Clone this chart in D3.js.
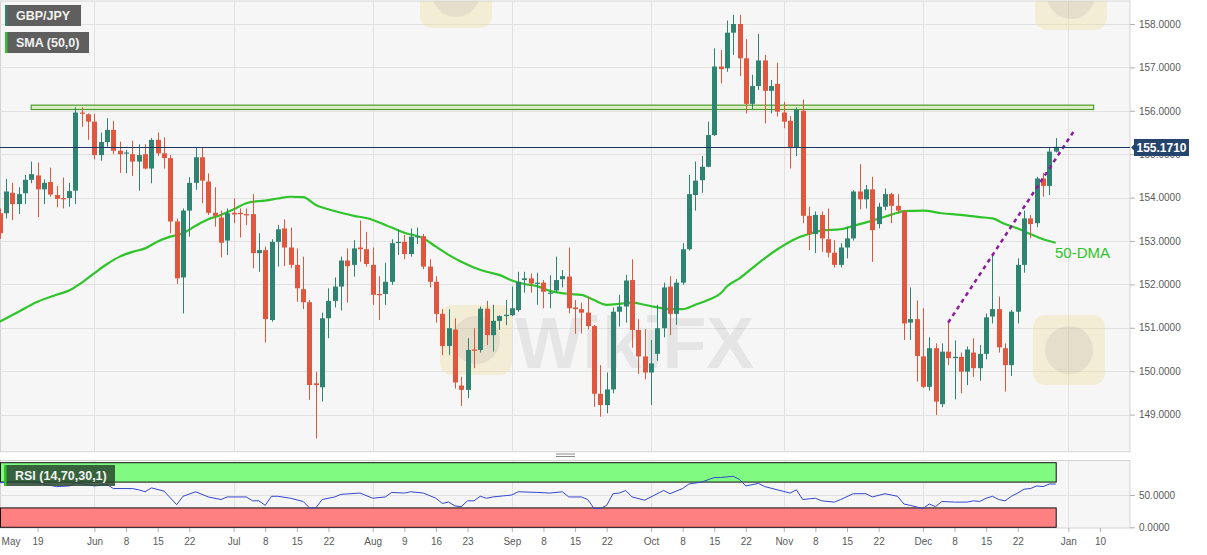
<!DOCTYPE html>
<html>
<head>
<meta charset="utf-8">
<script src="https://cdn.jsdelivr.net/npm/d3@7"></script>
<style>
  body { margin: 0; background: #fff; }
  svg { display: block; font-family: "Liberation Sans", Arial, sans-serif; }
</style>
</head>
<body>
<div id="container"></div>
<script>
// ---- data (GBP/JPY daily) ----
const axisStart = "2021-05-03";   // first weekday of the axis
const axisEnd = "2022-01-14";
const candleStart = "2021-05-11"; // first candle

const open = [
  153.64,153.64,154.11,153.85,154.10,154.41,154.51,154.19,154.36,154.06,153.99,153.99,154.16,155.96,155.92,
  155.75,154.98,155.28,155.56,155.08,155.02,155.00,154.83,155.00,154.67,155.33,155.02,154.91,153.45,152.16,153.70,154.34,154.93,154.37,153.65,153.54,153.01,
  153.65,153.65,153.62,153.62,152.72,152.79,151.18,152.98,153.29,152.85,152.45,151.89,151.59,149.72,149.63,151.22,151.62,151.95,152.55,152.45,152.85,152.81,
  152.45,151.78,151.78,152.06,152.96,152.98,152.70,153.10,153.11,152.41,152.06,151.32,150.58,150.96,149.67,149.57,150.50,150.49,151.44,150.83,151.16,151.27,
  151.29,151.41,152.10,152.14,152.02,152.04,151.79,151.86,152.12,152.18,151.47,151.43,151.35,151.04,149.48,149.22,149.58,151.37,151.49,152.10,150.95,150.34,
  149.97,150.40,150.99,151.95,151.32,152.04,152.81,154.06,154.40,154.71,155.44,157.02,156.98,157.80,158.00,157.21,156.16,156.57,157.16,156.46,156.62,
  155.96,155.77,155.16,156.00,153.58,153.16,153.60,153.04,152.73,152.45,152.85,153.06,154.14,153.96,154.19,153.39,153.79,154.08,153.81,153.68,151.12,151.20,
  150.34,149.64,150.53,149.24,150.45,150.30,150.33,149.99,150.43,150.07,150.40,151.26,151.43,150.53,150.14,151.37,152.45,153.52,153.41,154.44,154.27,155.06
];
const high = [
  153.75,154.43,154.34,154.24,154.52,154.83,154.81,154.42,154.69,154.27,154.46,154.34,156.08,156.08,155.94,
  155.93,155.50,155.83,155.77,155.29,155.10,155.31,155.23,155.23,155.37,155.50,155.39,154.98,153.52,153.75,154.47,155.16,155.16,154.56,154.24,153.70,153.75,
  153.98,153.75,153.75,154.08,153.18,152.87,153.04,153.37,153.50,153.31,152.83,152.64,151.64,149.99,151.35,151.91,152.16,152.64,152.83,153.02,153.47,153.21,
  152.85,152.19,152.50,153.04,153.27,153.14,153.29,153.31,153.16,152.58,152.19,151.43,151.43,151.22,149.87,150.76,150.99,151.49,151.62,151.53,151.29,151.64,
  151.95,152.29,152.29,152.25,152.27,152.10,152.21,152.64,152.33,152.85,151.64,151.58,151.72,151.07,150.14,149.97,151.47,151.76,152.22,152.58,151.20,150.97,
  150.72,151.53,152.04,152.19,152.12,152.95,154.52,154.83,154.96,155.75,157.44,157.40,158.08,158.21,158.21,157.65,156.83,157.77,157.29,156.71,157.11,
  156.21,155.88,156.08,156.26,153.79,153.68,153.68,153.75,153.02,152.95,153.32,154.17,154.77,154.29,154.48,153.88,154.21,154.11,154.08,153.71,151.93,151.63,
  151.45,150.78,150.64,150.64,151.12,150.71,150.43,150.57,150.76,150.60,151.33,152.68,151.72,150.64,151.41,152.60,153.70,153.60,154.48,154.57,155.14,155.37
];
const low = [
  153.05,153.52,153.48,153.62,153.85,154.33,153.55,153.85,154.02,153.78,153.75,153.79,153.85,155.63,155.33,
  154.88,154.85,155.17,155.00,154.57,154.56,154.50,154.16,154.65,154.33,154.96,154.67,153.18,152.01,151.33,153.10,154.18,153.87,153.60,153.33,152.62,152.68,
  153.41,153.08,153.37,152.37,152.29,150.66,151.14,152.41,152.42,152.37,151.60,151.43,149.34,148.45,149.30,150.76,151.47,151.40,151.58,152.18,152.52,152.41,
  151.53,151.18,151.53,151.99,152.68,152.58,152.64,152.93,152.35,151.93,151.12,150.37,150.37,149.60,149.20,149.38,150.07,150.43,150.60,150.45,150.95,151.06,
  151.27,151.37,151.81,151.81,151.53,151.45,151.45,151.81,151.93,151.33,150.86,150.87,150.96,149.18,148.95,149.03,149.49,151.03,151.12,150.54,149.94,149.81,
  149.22,150.24,150.78,150.83,151.07,151.99,152.78,153.70,154.11,154.70,155.42,156.63,156.90,157.29,156.80,155.94,156.03,156.48,155.71,155.94,155.87,
  155.60,154.67,154.96,153.41,152.79,152.72,152.75,152.62,152.39,152.39,152.60,153.01,153.73,153.75,152.52,153.29,153.71,153.41,153.64,150.72,150.72,149.76,
  149.61,149.55,148.99,149.17,150.14,149.35,149.49,149.68,149.87,149.78,150.27,151.10,150.43,149.53,149.89,151.10,152.27,153.06,153.32,154.02,154.06,155.04
];
const close = [
  153.18,154.14,153.85,154.08,154.41,154.54,154.19,154.34,154.07,153.97,153.96,154.15,155.96,155.93,155.75,
  154.98,155.28,155.56,155.08,155.00,155.04,154.83,154.98,154.67,155.33,155.02,154.91,153.45,152.14,153.70,154.34,154.93,154.39,153.65,153.58,152.96,153.64,
  153.61,153.62,153.59,152.72,152.79,151.20,152.98,153.27,152.85,152.45,151.91,151.59,149.68,149.68,151.22,151.62,151.95,152.55,152.42,152.83,152.81,152.47,
  151.76,151.75,152.06,152.95,152.98,152.70,153.10,153.11,152.41,152.06,151.32,150.58,150.99,149.74,149.57,150.49,150.47,151.44,150.83,151.16,151.27,151.30,
  151.45,152.06,152.14,152.02,152.04,151.83,151.81,152.10,152.19,151.45,151.43,151.35,151.04,149.48,149.22,149.58,151.37,151.49,152.09,150.95,150.34,149.97,
  150.18,150.99,151.93,151.32,152.04,152.81,154.08,154.39,154.71,155.44,157.02,156.96,157.80,158.00,157.21,156.16,156.57,157.16,156.46,156.57,155.98,
  155.75,155.14,156.03,153.58,153.16,153.60,153.06,152.73,152.45,152.85,153.06,154.14,153.96,154.19,153.25,153.79,154.08,153.81,153.70,151.10,151.20,150.35,
  149.64,150.53,149.30,150.45,150.30,150.33,149.99,150.50,150.07,150.40,151.24,151.43,150.55,150.14,151.37,152.45,153.52,153.39,154.44,154.27,155.06,155.17
];

// 50-day SMA, sampled along the line
const smaDates = [
  "2021-05-11","2021-05-14","2021-05-19","2021-05-24","2021-05-26","2021-05-28","2021-06-01","2021-06-03","2021-06-07","2021-06-09",
  "2021-06-11","2021-06-15","2021-06-17","2021-06-21","2021-06-23","2021-06-25","2021-06-29","2021-07-01","2021-07-05","2021-07-07",
  "2021-07-08","2021-07-12","2021-07-14","2021-07-16","2021-07-20","2021-07-22","2021-07-26","2021-07-28","2021-07-30","2021-08-04",
  "2021-08-09","2021-08-12","2021-08-16","2021-08-18","2021-08-20","2021-08-24","2021-08-26","2021-08-30","2021-09-01","2021-09-03",
  "2021-09-07","2021-09-09","2021-09-14","2021-09-16","2021-09-20","2021-09-22","2021-09-24","2021-09-28","2021-09-30","2021-10-04",
  "2021-10-06","2021-10-08","2021-10-12","2021-10-14","2021-10-18","2021-10-19","2021-10-21","2021-10-26","2021-10-29","2021-11-03",
  "2021-11-05","2021-11-09","2021-11-12","2021-11-16","2021-11-19","2021-11-23","2021-11-25","2021-11-26","2021-12-01","2021-12-06",
  "2021-12-09","2021-12-14","2021-12-16","2021-12-20","2021-12-22","2021-12-24","2021-12-28","2021-12-30"
];
const smaValues = [
  151.14,151.37,151.60,151.76,151.86,152.04,152.26,152.47,152.64,152.75,
  152.83,152.99,153.10,153.18,153.35,153.50,153.60,153.73,153.87,153.92,
  153.93,153.98,154.02,154.01,153.83,153.73,153.65,153.58,153.53,153.37,
  153.19,153.06,152.87,152.68,152.52,152.39,152.29,152.22,152.09,152.01,
  151.96,151.85,151.78,151.76,151.64,151.53,151.55,151.58,151.53,151.47,
  151.43,151.43,151.53,151.64,151.79,151.95,152.14,152.49,152.81,153.06,
  153.16,153.24,153.27,153.35,153.47,153.56,153.65,153.69,153.70,153.64,
  153.60,153.55,153.52,153.39,153.29,153.16,153.04,152.96
];

// RSI (14), sampled along the line
const rsiDates = [
  "2021-05-11","2021-05-13","2021-05-19","2021-05-24","2021-05-26","2021-05-27","2021-06-01","2021-06-03","2021-06-04","2021-06-09",
  "2021-06-10","2021-06-11","2021-06-14","2021-06-16","2021-06-18","2021-06-21","2021-06-23","2021-06-25","2021-06-29","2021-06-30",
  "2021-07-05","2021-07-06","2021-07-07","2021-07-08","2021-07-09","2021-07-12","2021-07-14","2021-07-16","2021-07-19","2021-07-20",
  "2021-07-21","2021-07-23","2021-07-26","2021-07-29","2021-08-02","2021-08-04","2021-08-05","2021-08-09","2021-08-10","2021-08-12",
  "2021-08-16","2021-08-17","2021-08-18","2021-08-19","2021-08-20","2021-08-23","2021-08-24","2021-08-25","2021-08-26","2021-08-27",
  "2021-09-01","2021-09-02","2021-09-07","2021-09-09","2021-09-13","2021-09-14","2021-09-16","2021-09-17","2021-09-20","2021-09-21",
  "2021-09-22","2021-09-23","2021-09-24","2021-09-27","2021-09-28","2021-09-30","2021-10-01","2021-10-05","2021-10-06","2021-10-08",
  "2021-10-11","2021-10-13","2021-10-15","2021-10-18","2021-10-20","2021-10-21","2021-10-22","2021-10-26","2021-10-27","2021-10-29",
  "2021-11-02","2021-11-03","2021-11-04","2021-11-08","2021-11-09","2021-11-11","2021-11-12","2021-11-16","2021-11-18","2021-11-19",
  "2021-11-23","2021-11-25","2021-11-26","2021-11-29","2021-12-01","2021-12-02","2021-12-03","2021-12-06","2021-12-08","2021-12-10",
  "2021-12-13","2021-12-14","2021-12-15","2021-12-16","2021-12-17","2021-12-20","2021-12-21","2021-12-22","2021-12-23","2021-12-24",
  "2021-12-27","2021-12-28","2021-12-29","2021-12-30"
];
const rsiValues = [
  69,70,69,63,64,69,64,66,60,60,
  58,55,61,56,35,48,55,47,43,47,
  47,41,41,34,48,48,45,40,30,30,
  43,47,51,53,45,47,54,53,55,53,
  45,37,39,33,32,41,41,48,45,47,
  50,55,54,53,55,47,47,43,29,29,
  34,52,53,57,47,42,47,57,52,60,
  67,70,77,77,79,74,64,68,63,58,
  53,58,43,45,41,39,43,52,52,47,
  52,48,36,34,29,36,32,40,39,39,
  41,40,45,48,43,41,48,53,59,60,
  64,63,67,67
];

const xTickDates = [
  "2021-05-03","2021-05-19","2021-06-01","2021-06-08","2021-06-15","2021-06-22","2021-07-01","2021-07-08","2021-07-15","2021-07-22",
  "2021-08-02","2021-08-09","2021-08-16","2021-08-23","2021-09-01","2021-09-08","2021-09-15","2021-09-22","2021-10-01","2021-10-08",
  "2021-10-15","2021-10-22","2021-11-01","2021-11-08","2021-11-15","2021-11-22","2021-12-01","2021-12-08","2021-12-15","2021-12-22",
  "2022-01-03","2022-01-10"
];
const xTickLabels = [
  "May","19","Jun","8","15","22","Jul","8","15","22",
  "Aug","9","16","23","Sep","8","15","22","Oct","8",
  "15","22","Nov","8","15","22","Dec","8","15","22",
  "Jan","10"
];
const priceTicks = [149, 150, 151, 152, 153, 154, 155, 156, 157, 158];
const rsiTicks = [0, 50];
const rsiLevels = [30, 70];
const lastPrice = 155.171;
const zoneDates = ["2021-05-18", "2022-01-07"];
const zonePrices = [156.03, 156.13];
const trendDates = ["2021-12-07", "2022-01-04"];
const trendValues = [151.12, 155.56];

// ---- layout ----
const width = 1207;
const height = 555;
const plotRight = 1130;
const mainTop = 1, mainBottom = 451.7;
const rsiTop = 460.5, rsiBottom = 528;

const colorUp = "#2e8371";
const colorDown = "#e0573f";

// trading days on the axis (weekdays only)
const parseDay = d3.timeParse("%Y-%m-%d");
const fmtDay = d3.timeFormat("%Y-%m-%d");
const days = d3.timeDay.range(parseDay(axisStart), d3.timeDay.offset(parseDay(axisEnd), 1))
  .filter(d => d.getDay() !== 0 && d.getDay() !== 6)
  .map(fmtDay);
const dayIndex = new Map(days.map((d, i) => [d, i]));
const i0 = dayIndex.get(candleStart);
const candles = open.map((o, k) => ({ i: i0 + k, o, h: high[k], l: low[k], c: close[k] }));

// scales
const scaleX = d3.scaleLinear()
  .domain([i0, i0 + candles.length - 1])
  .range([-0.4, 1055.7]);
const scaleY = d3.scaleLinear()
  .domain([148.145, 158.53])
  .range([mainBottom, mainTop]);
const scaleRsi = d3.scaleLinear()
  .domain([0, 100])
  .range([527.3, 462.7]);

const xOf = d => scaleX(dayIndex.get(d));

const svg = d3.select("#container")
  .append("svg")
  .attr("width", width)
  .attr("height", height);

const defs = svg.append("defs");
defs.append("clipPath").attr("id", "clipMain")
  .append("rect").attr("x", 0).attr("y", mainTop).attr("width", plotRight).attr("height", mainBottom - mainTop);
defs.append("clipPath").attr("id", "clipRsi")
  .append("rect").attr("x", 0).attr("y", rsiTop).attr("width", plotRight).attr("height", rsiBottom - rsiTop);

// panels
[[mainTop, mainBottom], [rsiTop, rsiBottom]].forEach(([t, b]) => {
  svg.append("rect")
    .attr("x", 0.5).attr("y", t)
    .attr("width", plotRight - 0.5).attr("height", b - t)
    .attr("fill", "#f6f6f6")
    .attr("stroke", "#d4d4d4");
});

// grid
const monthDates = xTickDates.filter((d, k) => isNaN(+xTickLabels[k]) && xOf(d) > 0);
const groupGrid = svg.append("g").attr("class", "groupGrid")
  .attr("stroke", "#e1e1e1").attr("stroke-width", 1);
groupGrid.selectAll("line.h")
  .data(priceTicks)
  .join("line").attr("class", "h")
  .attr("x1", 0).attr("x2", plotRight)
  .attr("y1", d => Math.round(scaleY(d)) + 0.5).attr("y2", d => Math.round(scaleY(d)) + 0.5);
groupGrid.selectAll("line.v")
  .data(monthDates)
  .join("line").attr("class", "v")
  .attr("x1", d => Math.round(xOf(d)) + 0.5).attr("x2", d => Math.round(xOf(d)) + 0.5)
  .attr("y1", mainTop).attr("y2", mainBottom);
groupGrid.selectAll("line.vr")
  .data(monthDates)
  .join("line").attr("class", "vr")
  .attr("x1", d => Math.round(xOf(d)) + 0.5).attr("x2", d => Math.round(xOf(d)) + 0.5)
  .attr("y1", rsiTop).attr("y2", rsiBottom);
groupGrid.append("line")
  .attr("x1", 0).attr("x2", plotRight)
  .attr("y1", Math.round(scaleRsi(50)) + 0.5).attr("y2", Math.round(scaleRsi(50)) + 0.5);

// watermark (faint logo tiles, one word mark in the middle)
const groupMark = svg.append("g").attr("class", "groupMark").attr("clip-path", "url(#clipMain)");
[[440, 305], [1033, 315], [420, -42], [1035, -40]].forEach(([mx, my]) => {
  groupMark.append("rect")
    .attr("x", mx).attr("y", my).attr("width", 72).attr("height", 70).attr("rx", 12)
    .attr("fill", "#f2dc9c").attr("opacity", 0.35);
  groupMark.append("circle")
    .attr("cx", mx + 36).attr("cy", my + 35).attr("r", 24)
    .attr("fill", "#9a9a9a").attr("opacity", 0.18);
});
groupMark.append("text")
  .attr("x", 515).attr("y", 368)
  .attr("fill", "#8f8f8f").attr("opacity", 0.16)
  .style("font-weight", "bold").style("font-size", "72px")
  .text("WikiFX");

// resistance zone
const groupMain = svg.append("g").attr("class", "groupMarks").attr("clip-path", "url(#clipMain)");
groupMain.append("rect")
  .attr("x", xOf(zoneDates[0]))
  .attr("y", scaleY(zonePrices[1]))
  .attr("width", xOf(zoneDates[1]) - xOf(zoneDates[0]))
  .attr("height", scaleY(zonePrices[0]) - scaleY(zonePrices[1]))
  .attr("fill", "#d9efbd")
  .attr("fill-opacity", 0.8)
  .attr("stroke", "#4f9a2c")
  .attr("stroke-width", 1.2);

// SMA 50
groupMain.append("path")
  .datum(smaDates.map((d, k) => [xOf(d), scaleY(smaValues[k])]))
  .attr("fill", "none")
  .attr("stroke", "#2fc42a")
  .attr("stroke-width", 2.2)
  .attr("d", d3.line().curve(d3.curveMonotoneX));

// candles
const candleG = groupMain.selectAll("g.candle")
  .data(candles)
  .join("g").attr("class", "candle")
  .attr("fill", d => d.c >= d.o ? colorUp : colorDown)
  .attr("stroke", d => d.c >= d.o ? colorUp : colorDown);
candleG.append("line")
  .attr("x1", d => Math.round(scaleX(d.i)) + 0.5)
  .attr("x2", d => Math.round(scaleX(d.i)) + 0.5)
  .attr("y1", d => scaleY(d.h))
  .attr("y2", d => scaleY(d.l))
  .attr("stroke-width", 1);
candleG.append("rect")
  .attr("x", d => Math.round(scaleX(d.i)) - 2)
  .attr("width", 5)
  .attr("y", d => scaleY(Math.max(d.o, d.c)))
  .attr("height", d => Math.max(1.2, Math.abs(scaleY(d.o) - scaleY(d.c))))
  .attr("stroke", "none");

// trend line
svg.append("line")
  .attr("x1", xOf(trendDates[0])).attr("y1", scaleY(trendValues[0]))
  .attr("x2", xOf(trendDates[1])).attr("y2", scaleY(trendValues[1]))
  .attr("stroke", "#8e1a9e")
  .attr("stroke-width", 2.5)
  .attr("stroke-dasharray", "4,4");

// last price line
const yLast = Math.round(scaleY(lastPrice)) + 0.5;
svg.append("line")
  .attr("x1", 0).attr("x2", plotRight)
  .attr("y1", yLast).attr("y2", yLast)
  .attr("stroke", "#1e3660").attr("stroke-width", 1);

svg.append("text")
  .attr("x", 1055).attr("y", 258)
  .attr("fill", "#2fc42a")
  .style("font-size", "15px")
  .text("50-DMA");

// RSI panel
const groupRsi = svg.append("g").attr("class", "groupRsi").attr("clip-path", "url(#clipRsi)");
const xLastCandle = scaleX(i0 + candles.length - 1);
groupRsi.append("rect")
  .attr("x", 0.5).attr("y", scaleRsi(100))
  .attr("width", xLastCandle).attr("height", scaleRsi(rsiLevels[1]) - scaleRsi(100))
  .attr("fill", "#80fa80").attr("stroke", "#111").attr("stroke-width", 1);
groupRsi.append("rect")
  .attr("x", 0.5).attr("y", scaleRsi(rsiLevels[0]))
  .attr("width", xLastCandle).attr("height", scaleRsi(0) - scaleRsi(rsiLevels[0]))
  .attr("fill", "#ff8080").attr("stroke", "#111").attr("stroke-width", 1);
groupRsi.append("path")
  .datum(rsiDates.map((d, k) => [xOf(d), scaleRsi(rsiValues[k])]))
  .attr("fill", "none")
  .attr("stroke", "#3448cf")
  .attr("stroke-width", 1)
  .attr("d", d3.line());

// panel splitter handle
svg.append("g").attr("stroke", "#8a8a8a")
  .selectAll("line").data([454, 456.5]).join("line")
  .attr("x1", 556).attr("x2", 575).attr("y1", d => d).attr("y2", d => d);

// axes
const styleAxis = g => {
  g.select(".domain").remove();
  g.selectAll(".tick line").attr("stroke", "#b0b0b0");
  g.selectAll(".tick text").attr("fill", "#5a5a5a");
};
svg.append("g")
  .attr("transform", `translate(${plotRight}, 0)`)
  .attr("font-size", 12).attr("font-family", "Liberation Sans, Arial, sans-serif")
  .call(d3.axisRight(scaleY).tickValues(priceTicks).tickFormat(d3.format(".4f")).tickSize(5).tickPadding(4))
  .call(styleAxis);
svg.append("g")
  .attr("transform", `translate(${plotRight}, 0)`)
  .attr("font-size", 12).attr("font-family", "Liberation Sans, Arial, sans-serif")
  .call(d3.axisRight(scaleRsi).tickValues(rsiTicks).tickFormat(d3.format(".4f")).tickSize(5).tickPadding(4))
  .call(styleAxis);
svg.append("g")
  .attr("transform", `translate(0, ${rsiBottom})`)
  .attr("font-size", 12).attr("font-family", "Liberation Sans, Arial, sans-serif")
  .call(d3.axisBottom(scaleX)
    .tickValues(xTickDates.map(d => dayIndex.get(d)))
    .tickFormat((d, k) => xTickLabels[k])
    .tickSize(4).tickPadding(6))
  .call(styleAxis)
  .call(g => {
    // the first month label sits before the visible range: pin it to the left edge
    g.selectAll(".tick").filter(d => scaleX(d) < 0)
      .attr("transform", "translate(11, 0)")
      .select("line").remove();
  });

// last price label
const groupPrice = svg.append("g").attr("transform", `translate(${plotRight}, ${yLast})`);
groupPrice.append("path")
  .attr("d", "M1,0 L5,-4 L5,4 Z")
  .attr("fill", "#24446c");
groupPrice.append("rect")
  .attr("x", 4).attr("y", -8.5).attr("width", 55).attr("height", 17)
  .attr("fill", "#24446c");
groupPrice.append("text")
  .attr("x", 31.5).attr("y", 0).attr("dy", "0.35em")
  .attr("text-anchor", "middle")
  .attr("fill", "#fff")
  .style("font-size", "12px").style("font-weight", "bold")
  .text(d3.format(".4f")(lastPrice));

// legend tags
function renderTag(x, y, w, h, label, edge, bg) {
  const g = svg.append("g").attr("transform", `translate(${x}, ${y})`);
  g.append("rect").attr("width", w).attr("height", h).attr("fill", bg);
  g.append("rect").attr("width", 2.5).attr("height", h).attr("fill", edge);
  g.append("text")
    .attr("x", 11).attr("y", h / 2).attr("dy", "0.35em")
    .attr("fill", "#f2f2f2")
    .style("font-size", "12.5px").style("font-weight", "bold")
    .text(label);
}
renderTag(5, 5, 76, 21, "GBP/JPY", colorUp, "#5f5f5f");
renderTag(5, 32, 84, 21, "SMA (50,0)", "#2fc42a", "#5f5f5f");
renderTag(4, 465, 111, 21, "RSI (14,70,30,1)", "#2fc42a", "rgba(42,72,48,0.85)");
</script>
</body>
</html>
